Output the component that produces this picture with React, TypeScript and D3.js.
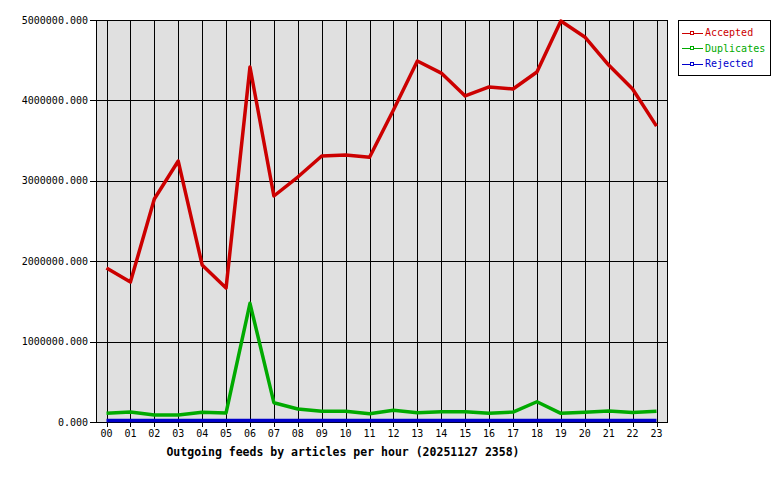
import React, { useEffect, useRef } from 'react';
import * as d3 from 'd3';

const hours = ['00', '01', '02', '03', '04', '05', '06', '07', '08', '09', '10', '11',
  '12', '13', '14', '15', '16', '17', '18', '19', '20', '21', '22', '23'];

const accepted = [1915000, 1741000, 2774000, 3246000, 1953000, 1667000, 4415000, 2811000,
  3047000, 3308000, 3321000, 3292000, 3880000, 4490000, 4340000, 4055000, 4167000, 4142000,
  4353000, 4988000, 4789000, 4440000, 4142000, 3680000];

const duplicates = [108000, 124000, 87000, 87000, 120000, 112000, 1476000, 240000,
  162000, 133000, 133000, 103000, 147000, 116000, 128000, 128000, 108000, 124000,
  252000, 108000, 120000, 137000, 118000, 133000];

const rejected = [0, 0, 0, 0, 0, 0, 0, 0, 0, 0, 0, 0, 0, 0, 0, 0, 0, 0, 0, 0, 0, 0, 0, 0];

const yTicks = [0, 1000000, 2000000, 3000000, 4000000, 5000000];

const series = [
  { name: 'Accepted', values: accepted, color: '#cc0000' },
  { name: 'Duplicates', values: duplicates, color: '#00aa00' },
  { name: 'Rejected', values: rejected, color: '#0000cc' },
];

const mono = "'DejaVu Sans Mono', monospace";

export default function App() {
  const ref = useRef<SVGSVGElement>(null);

  useEffect(() => {
    const svg = d3.select(ref.current);
    svg.selectAll('*').remove();

    const margin = { top: 20, left: 96, right: 113, bottom: 58 };
    const width = 780 - margin.left - margin.right;
    const height = 480 - margin.top - margin.bottom;

    const x = d3.scalePoint<string>().domain(hours).range([10.5, width - 10.5]);
    const y = d3.scaleLinear().domain([0, 5000000]).range([height, 0]);

    const g = svg.append('g').attr('transform', `translate(${margin.left},${margin.top})`);

    g.append('rect')
      .attr('width', width)
      .attr('height', height)
      .attr('fill', '#e0e0e0');

    // grid
    g.selectAll('.vgrid')
      .data(hours)
      .enter()
      .append('line')
      .attr('x1', d => Math.round(x(d)!) + 0.5)
      .attr('x2', d => Math.round(x(d)!) + 0.5)
      .attr('y1', 0)
      .attr('y2', height + 5)
      .attr('stroke', '#000');

    g.selectAll('.hgrid')
      .data(yTicks)
      .enter()
      .append('line')
      .attr('x1', -6)
      .attr('x2', width)
      .attr('y1', d => Math.round(y(d)) + 0.5)
      .attr('y2', d => Math.round(y(d)) + 0.5)
      .attr('stroke', '#000');

    g.append('rect')
      .attr('x', 0.5)
      .attr('y', 0.5)
      .attr('width', width)
      .attr('height', height)
      .attr('fill', 'none')
      .attr('stroke', '#000');

    // labels
    g.selectAll('.ylab')
      .data(yTicks)
      .enter()
      .append('text')
      .attr('x', -8)
      .attr('y', d => y(d))
      .attr('dy', '0.35em')
      .attr('text-anchor', 'end')
      .style('font', `10px ${mono}`)
      .text(d => d3.format('.3f')(d));

    g.selectAll('.xlab')
      .data(hours)
      .enter()
      .append('text')
      .attr('x', d => x(d)!)
      .attr('y', height + 15)
      .attr('text-anchor', 'middle')
      .style('font', `10px ${mono}`)
      .text(d => d);

    svg.append('text')
      .attr('x', 343)
      .attr('y', 456)
      .attr('text-anchor', 'middle')
      .style('font', `bold 11.5px ${mono}`)
      .text('Outgoing feeds by articles per hour (20251127 2358)');

    // lines (the zero line sits just above the frame, as in the original)
    [...series].reverse().forEach(s => {
      const off = s.name === 'Rejected' ? 1.5 : 0;
      const line = d3.line<number>()
        .x((d, i) => x(hours[i])!)
        .y(d => y(d) - off);
      g.append('path')
        .datum(s.values)
        .attr('fill', 'none')
        .attr('stroke', s.color)
        .attr('stroke-width', 3.5)
        .attr('stroke-linejoin', 'round')
        .attr('d', line);
    });

    // legend
    const lg = svg.append('g').attr('transform', 'translate(678,20)');
    lg.append('rect')
      .attr('x', 0.5)
      .attr('y', 0.5)
      .attr('width', 92)
      .attr('height', 55)
      .attr('fill', '#fff')
      .attr('stroke', '#000');

    series.forEach((s, i) => {
      const ly = 12.5 + i * 15.5;
      lg.append('line')
        .attr('x1', 4)
        .attr('x2', 25)
        .attr('y1', Math.round(ly) + 0.5)
        .attr('y2', Math.round(ly) + 0.5)
        .attr('stroke', s.color);
      lg.append('rect')
        .attr('x', 12.5)
        .attr('y', Math.round(ly) - 1.5)
        .attr('width', 3)
        .attr('height', 3)
        .attr('fill', '#fff')
        .attr('stroke', s.color);
      lg.append('text')
        .attr('x', 27)
        .attr('y', ly)
        .attr('dy', '0.35em')
        .attr('fill', s.color)
        .style('font', `10px ${mono}`)
        .text(s.name);
    });
  }, []);

  return (
    <svg
      ref={ref}
      width={780}
      height={480}
      style={{ position: 'absolute', left: 0, top: 0, background: '#fff' }}
    />
  );
}
